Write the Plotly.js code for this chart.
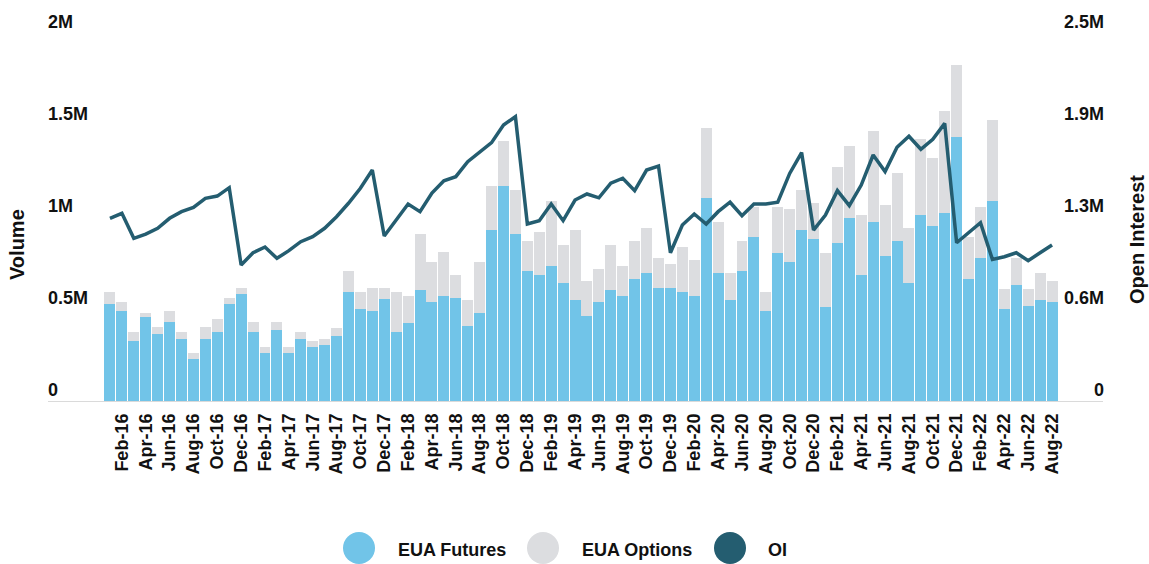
<!DOCTYPE html>
<html>
<head>
<meta charset="utf-8">
<script src="https://cdn.plot.ly/plotly-3.0.1.min.js"></script>
<style>html,body{margin:0;padding:0;background:#fff;}#chart{width:1149px;height:564px;}</style>
</head>
<body>
<div id="chart"></div>
<script>
const months = ["Jan-16","Feb-16","Mar-16","Apr-16","May-16","Jun-16","Jul-16","Aug-16","Sep-16","Oct-16","Nov-16","Dec-16",
"Jan-17","Feb-17","Mar-17","Apr-17","May-17","Jun-17","Jul-17","Aug-17","Sep-17","Oct-17","Nov-17","Dec-17",
"Jan-18","Feb-18","Mar-18","Apr-18","May-18","Jun-18","Jul-18","Aug-18","Sep-18","Oct-18","Nov-18","Dec-18",
"Jan-19","Feb-19","Mar-19","Apr-19","May-19","Jun-19","Jul-19","Aug-19","Sep-19","Oct-19","Nov-19","Dec-19",
"Jan-20","Feb-20","Mar-20","Apr-20","May-20","Jun-20","Jul-20","Aug-20","Sep-20","Oct-20","Nov-20","Dec-20",
"Jan-21","Feb-21","Mar-21","Apr-21","May-21","Jun-21","Jul-21","Aug-21","Sep-21","Oct-21","Nov-21","Dec-21",
"Jan-22","Feb-22","Mar-22","Apr-22","May-22","Jun-22","Jul-22","Aug-22"];

const euaFutures = [531000,495000,333000,460000,368000,437000,344000,232000,344000,379000,531000,587000,
379000,265000,391000,265000,344000,299000,312000,357000,598000,507000,495000,562000,
379000,428000,610000,542000,574000,563000,415000,482000,933000,1174000,911000,714000,
688000,737000,645000,553000,469000,542000,610000,574000,667000,703000,621000,621000,
598000,574000,1107000,703000,554000,714000,899000,495000,808000,761000,933000,886000,
518000,864000,1002000,690000,978000,793000,875000,645000,1015000,957000,1027000,1440000,
670000,783000,1094000,507000,634000,520000,553000,542000];

const euaOptions = [68000,47000,47000,24000,38000,59000,38000,33000,62000,72000,34000,34000,
58000,36000,46000,36000,36000,34000,32000,47000,116000,93000,126000,59000,
221000,148000,301000,219000,243000,129000,139000,279000,241000,244000,239000,161000,
234000,357000,206000,380000,189000,183000,243000,163000,208000,241000,163000,127000,
243000,198000,380000,277000,149000,161000,163000,105000,254000,288000,219000,197000,
290000,415000,391000,325000,497000,278000,368000,299000,414000,367000,553000,392000,
229000,279000,439000,105000,147000,92000,150000,116000];

const openInterest = [1248000,1282000,1112000,1141000,1180000,1248000,1293000,1322000,1384000,1399000,1456000,931000,
1014000,1053000,976000,1028000,1089000,1123000,1180000,1259000,1350000,1452000,1576000,1128000,
1236000,1345000,1293000,1420000,1503000,1531000,1633000,1700000,1762000,1882000,1938000,1209000,
1232000,1345000,1232000,1372000,1413000,1387000,1486000,1520000,1436000,1576000,1603000,1014000,
1202000,1277000,1209000,1293000,1357000,1266000,1345000,1345000,1357000,1553000,1694000,1168000,
1270000,1436000,1334000,1474000,1678000,1565000,1730000,1805000,1717000,1785000,1893000,1082000,
1150000,1218000,969000,987000,1014000,960000,1014000,1067000];

const xTickLabels = ["Feb-16","Apr-16","Jun-16","Aug-16","Oct-16","Dec-16","Feb-17","Apr-17","Jun-17","Aug-17","Oct-17","Dec-17",
"Feb-18","Apr-18","Jun-18","Aug-18","Oct-18","Dec-18","Feb-19","Apr-19","Jun-19","Aug-19","Oct-19","Dec-19",
"Feb-20","Apr-20","Jun-20","Aug-20","Oct-20","Dec-20","Feb-21","Apr-21","Jun-21","Aug-21","Oct-21","Dec-21",
"Feb-22","Apr-22","Jun-22","Aug-22"];

const volTickVals = [0, 500000, 1000000, 1500000, 2000000];
const volTickText = ["0", "0.5M", "1M", "1.5M", "2M"];
const oiTickVals = [0, 625000, 1250000, 1875000, 2500000];
const oiTickText = ["0", "0.6M", "1.3M", "1.9M", "2.5M"];

const seriesNames = ["EUA Futures", "EUA Options", "OI"];
const colors = ["#71c4e8", "#dcdde0", "#245d70"];

const FONT = "Liberation Sans, Arial, Helvetica, sans-serif";
const W = 1149, H = 564, ML = 44, MR = 42, MT = 5, MB = 162;
const plotW = W - ML - MR, plotH = H - MT - MB;
const zeroPx = H - MB, topValPx = 34;
const scale = plotH / (zeroPx - topValPx);
const px2x = p => (p - ML) / plotW;
const px2y = p => (zeroPx - p) / plotH;

const traces = [
  {type: "bar", name: seriesNames[0], x: months, y: euaFutures, marker: {color: colors[0]}, showlegend: false, hoverinfo: "x+y"},
  {type: "bar", name: seriesNames[1], x: months, y: euaOptions, marker: {color: colors[1]}, showlegend: false, hoverinfo: "x+y"},
  {type: "scatter", mode: "lines", name: seriesNames[2], x: months, y: openInterest, yaxis: "y2",
   line: {color: colors[2], width: 3.5}, showlegend: false}
];

const tickFont = {family: FONT, size: 18, color: "#111", weight: "bold"};

const legendX = [359, 543, 730];
const legendTextX = [398, 582, 768];
const legendY = 548;
const shapes = [
  {type: "line", xref: "paper", yref: "y", x0: px2x(48), x1: px2x(1103), y0: 0, y1: 0, line: {color: "#dadada", width: 2}, layer: "above"}
];
const annotations = [
  {text: "Volume", xref: "paper", yref: "paper", x: px2x(17), y: px2y(245), textangle: -90,
   showarrow: false, font: {family: FONT, size: 20, color: "#111", weight: "bold"}, xanchor: "center", yanchor: "middle"},
  {text: "Open Interest", xref: "paper", yref: "paper", x: px2x(1137), y: px2y(240), textangle: -90,
   showarrow: false, font: {family: FONT, size: 20, color: "#111", weight: "bold"}, xanchor: "center", yanchor: "middle"}
];
for (let i = 0; i < 3; i++) {
  const cx = px2x(legendX[i]), cy = px2y(legendY);
  const rx = 16 / plotW, ry = 16 / plotH;
  shapes.push({type: "circle", xref: "paper", yref: "paper", x0: cx - rx, x1: cx + rx, y0: cy - ry, y1: cy + ry,
    fillcolor: colors[i], line: {width: 0}});
  annotations.push({text: seriesNames[i], xref: "paper", yref: "paper", x: px2x(legendTextX[i] - 2), y: px2y(550),
    xanchor: "left", yanchor: "middle", showarrow: false, font: {family: FONT, size: 18, color: "#111", weight: "bold"}});
}

const layout = {
  width: W, height: H,
  margin: {l: ML, r: MR, t: MT, b: MB, pad: 0},
  paper_bgcolor: "#fff", plot_bgcolor: "#fff",
  barmode: "stack", bargap: 0.08,
  showlegend: false,
  xaxis: {
    type: "category", domain: [px2x(104), px2x(1058)],
    tickvals: xTickLabels, ticktext: xTickLabels, tickangle: -90, ticklabelstandoff: 7,
    tickfont: tickFont, showgrid: false, showline: false, zeroline: false, ticks: "",
    fixedrange: true
  },
  yaxis: {
    range: [0, 2000000 * scale], anchor: "free", position: 0, side: "left",
    tickvals: volTickVals, ticktext: volTickText, ticklabelposition: "inside", ticklabelshift: -12,
    tickfont: tickFont, showgrid: false, showline: false, zeroline: false, ticks: "", fixedrange: true
  },
  yaxis2: {
    range: [0, 2500000 * scale], overlaying: "y", side: "right", anchor: "free", position: 1,
    tickvals: oiTickVals, ticktext: oiTickText, ticklabelposition: "inside", ticklabelshift: -12,
    tickfont: tickFont, showgrid: false, showline: false, zeroline: false, ticks: "", fixedrange: true
  },
  shapes: shapes,
  annotations: annotations
};

Plotly.newPlot("chart", traces, layout, {displayModeBar: false, staticPlot: true});
</script>
</body>
</html>
